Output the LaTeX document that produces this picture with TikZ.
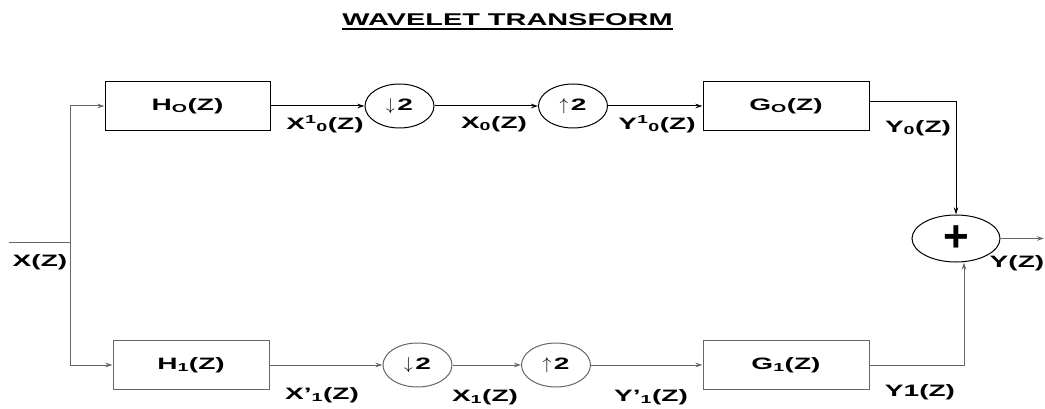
\documentclass[tikz,border=0pt]{standalone}
\usepackage{fontspec}
\setmainfont{Liberation Sans}[FakeStretch=1.7]
\newfontfamily\plussign{Liberation Sans}
\usetikzlibrary{shapes.geometric, arrows.meta}

\begin{document}
\begin{tikzpicture}[x=1pt, y=-1pt, line width=1pt,
  >={Stealth[length=7pt, width=4.5pt]},
  sig/.style={font=\bfseries\fontsize{16.5}{18}\selectfont, inner sep=0pt},
  greyline/.style={draw=black!60}]

\useasboundingbox (0,0) rectangle (1045,409);

% 1. Stile fuer Filterbloecke und Abtastkreise
\tikzset{filterbox/.style={draw, minimum height=49pt, inner sep=0pt, font=\bfseries\fontsize{16.5}{18}\selectfont},
         ratebox/.style={draw, ellipse, minimum width=69pt, minimum height=44pt, inner sep=0pt, font=\bfseries\fontsize{16.5}{18}\selectfont}}

% 2. Ueberschrift
\node[inner sep=0pt, font=\bfseries\fontsize{17}{19}\selectfont] (title) at (507.5,20) {WAVELET TRANSFORM};
\draw[line width=2pt] ([yshift=-3pt]title.base west) -- ([yshift=-3pt]title.base east);

% 3. Oberer Zweig
\node[filterbox, minimum width=165pt] (H0) at (187.5,106) {H\textsubscript{O}(Z)};
\node[ratebox] (down0) at (399.5,106) {$\downarrow$\,2};
\node[ratebox] (up0) at (573,106) {$\uparrow$\,2};
\node[filterbox, minimum width=166pt] (G0) at (786,106) {G\textsubscript{O}(Z)};

% 4. Unterer Zweig
\node[filterbox, greyline, minimum width=156pt] (H1) at (191,365) {H\textsubscript{1}(Z)};
\node[ratebox, greyline] (down1) at (417.5,365) {$\downarrow$\,2};
\node[ratebox, greyline] (up1) at (556,365) {$\uparrow$\,2};
\node[filterbox, greyline, minimum width=166pt] (G1) at (786,365) {G\textsubscript{1}(Z)};

% 5. Summierer
\node[draw, ellipse, minimum width=88pt, minimum height=47pt, inner sep=0pt,
      font=\plussign\bfseries\fontsize{44}{44}\selectfont] (sum) at (956,238.5) {+};

% 6. Eingang und Ausgang
\coordinate (in) at (9,242);
\coordinate (split) at (70,242);
\coordinate (out) at (1044,238.5);

% 7. Verbindungen
\draw[greyline] (in) -- (split);
\draw[greyline, ->] (split) |- (H0);
\draw[greyline, ->] (split) |- (H1);
\draw[->] (H0) -- (down0);
\draw[->] (down0) -- (up0);
\draw[->] (up0) -- (G0);
\draw[->] ([yshift=4pt]G0.east) -| (sum.north);
\draw[greyline, ->] (H1) -- (down1);
\draw[greyline, ->] (down1) -- (up1);
\draw[greyline, ->] (up1) -- (G1);
\draw[greyline, ->] (G1.east) -| ([xshift=8pt]sum.south);
\draw[greyline, ->] (sum.east) -- (out);

% 8. Signalnamen
\node[sig] (xin) at (40,262) {X(Z)};
\node[sig] (x10) at (325,124) {X\textsuperscript{1}\textsubscript{0}(Z)};
\node[sig] (x0) at (494,124) {X\textsubscript{0}(Z)};
\node[sig] (y10) at (657,124) {Y\textsuperscript{1}\textsubscript{0}(Z)};
\node[sig] (y0) at (918,128) {Y\textsubscript{0}(Z)};
\node[sig] (yout) at (1017,263) {Y(Z)};
\node[sig] (x11) at (322,395) {X’\textsubscript{1}(Z)};
\node[sig] (x1) at (485,397) {X\textsubscript{1}(Z)};
\node[sig] (y11) at (651,397) {Y’\textsubscript{1}(Z)};
\node[sig] (y1) at (920,392) {Y1(Z)};

\end{tikzpicture}
\end{document}
